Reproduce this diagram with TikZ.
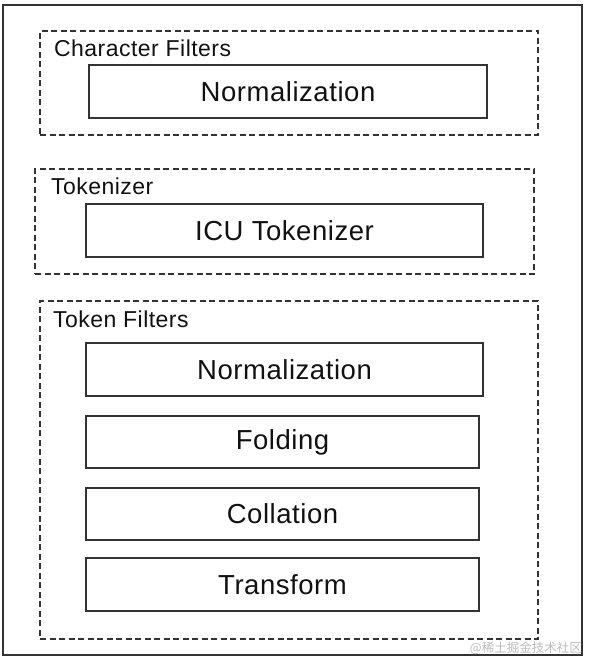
\documentclass[tikz,border=0pt]{standalone}
\usepackage{fontspec}
\setmainfont{Liberation Sans}[LetterSpace=2]
\newfontfamily\cjk{Noto Sans CJK SC}
\definecolor{linec}{HTML}{333333}
\definecolor{textc}{HTML}{111111}
\definecolor{wmark}{HTML}{BDBDBD}
\begin{document}
\begin{tikzpicture}[x=1pt,y=-1pt,
  outerframe/.style={draw=linec, line width=1.8pt, rectangle, inner sep=0pt},
  group/.style={draw=linec, line width=1.3pt, dash pattern=on 6pt off 3.5pt, rectangle, inner sep=0pt},
  stage/.style={draw=linec, line width=1.8pt, rectangle, inner sep=0pt, text=textc,
    font=\fontsize{27.5}{31}\selectfont},
  grouplabel/.style={anchor=base west, inner sep=0pt, text=textc,
    font=\fontsize{23}{27}\selectfont},
  watermark/.style={anchor=base east, inner sep=0pt, text=wmark,
    font=\cjk\fontsize{12.5}{14}\selectfont}]
\useasboundingbox (0,0) rectangle (588,660);
\fill[white] (0,0) rectangle (588,660);
% outer frame
\node[outerframe, minimum width=579pt, minimum height=650pt] (frame) at (292.5,330) {};
% Character Filters
\node[group, minimum width=498pt, minimum height=104pt] (cf) at (289,83) {};
\node[grouplabel] (cflabel) at (54,57) {Character Filters};
\node[stage, minimum width=398pt, minimum height=53pt] (cfnorm) at (288,91.5) {Normalization};
% Tokenizer
\node[group, minimum width=499pt, minimum height=105pt] (tk) at (284.5,221.5) {};
\node[grouplabel] (tklabel) at (51,195) {Tokenizer};
\node[stage, minimum width=397pt, minimum height=53pt] (icu) at (284.5,230.5) {ICU Tokenizer};
% Token Filters
\node[group, minimum width=498pt, minimum height=338pt] (tf) at (289,470) {};
\node[grouplabel] (tflabel) at (53,327) {Token Filters};
\node[stage, minimum width=397pt, minimum height=53pt] (tfnorm) at (284.5,369.5) {Normalization};
\node[stage, minimum width=393pt, minimum height=52pt] (fold) at (282.5,442) {Folding};
\node[stage, minimum width=393pt, minimum height=52pt] (coll) at (282.5,514) {Collation};
\node[stage, minimum width=393pt, minimum height=53pt] (trans) at (282.5,584.5) {Transform};
% watermark
\node[watermark] (wm) at (582,652) {@稀土掘金技术社区};
\end{tikzpicture}
\end{document}
